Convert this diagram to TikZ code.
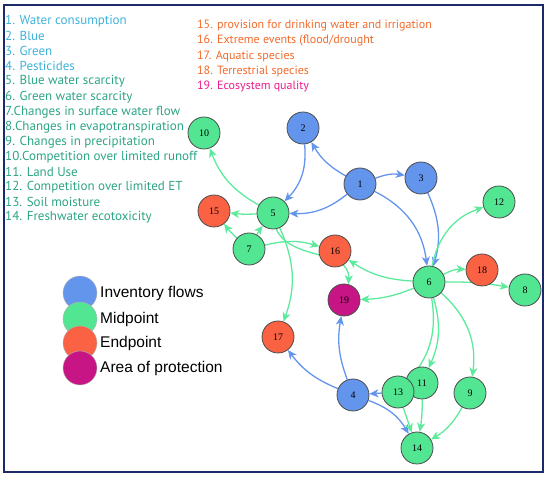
\documentclass[tikz,border=0pt]{standalone}
\usepackage{fontspec}
\usepackage{xcolor}
\usepackage{tikz}
\usetikzlibrary{arrows.meta,backgrounds}

\newfontfamily\listfont{PT Sans}
\newfontfamily\legendfont{Liberation Sans}
\newfontfamily\numfont{Liberation Serif}

\definecolor{flowblue}{HTML}{6495ED}
\definecolor{midgreen}{HTML}{52E693}
\definecolor{endred}{HTML}{FB6244}
\definecolor{aopmagenta}{HTML}{C71585}
\definecolor{linkgreen}{HTML}{5CEB9C}
\definecolor{txtblue}{HTML}{3EB2DA}
\definecolor{txtgreen}{HTML}{2CA585}
\definecolor{txtorange}{HTML}{F26A2A}
\definecolor{txtpink}{HTML}{EC1C8C}
\definecolor{framenavy}{HTML}{1C2A6B}

\tikzset{
  impact/.style={circle, draw=black!70, line width=0.8pt, minimum size=32pt,
                 inner sep=0pt, font=\numfont\fontsize{10}{10}\selectfont},
  flownode/.style={impact, fill=flowblue},
  midnode/.style={impact, fill=midgreen},
  endnode/.style={impact, fill=endred},
  aopnode/.style={impact, fill=aopmagenta},
  link/.style={line width=1.3pt, -{Stealth[length=9pt,width=8pt,inset=2.5pt]}, bend left=20},
  bluelink/.style={link, draw=flowblue},
  greenlink/.style={link, draw=linkgreen},
  listitem/.style={anchor=west, inner sep=0pt, font=\listfont\fontsize{13}{13}\selectfont},
  sidelist/.style={listitem, font=\listfont\fontsize{12}{12}\selectfont},
  legenddot/.style={circle, draw=black!30, line width=0.4pt, minimum size=34pt, inner sep=0pt},
  legendtext/.style={anchor=west, inner sep=0pt, font=\legendfont\fontsize{15.5}{15.5}\selectfont},
}

\begin{document}
\begin{tikzpicture}[x=1pt,y=1pt]
  \useasboundingbox (0,0) rectangle (550,477);

  % -- Frame --
  \draw[framenavy, line width=1.6pt] (4,5) rectangle (543,472);

  % -- Left list of indicators --
  \node[listitem, txtblue] (l1) at (5,456) {1. Water consumption};
  \node[listitem, txtblue] (l2) at (5,441) {2. Blue};
  \node[listitem, txtblue] (l3) at (5,426) {3. Green};
  \node[listitem, txtblue] (l4) at (5,411) {4. Pesticides};
  \node[listitem, txtgreen] (l5) at (5,396) {5. Blue water scarcity};
  \node[listitem, txtgreen] (l6) at (5,380) {6. Green water scarcity};
  \node[listitem, txtgreen] (l7) at (5,365) {7.Changes in surface water flow};
  \node[listitem, txtgreen] (l8) at (5,350) {8.Changes in evapotranspiration};
  \node[listitem, txtgreen] (l9) at (5,335) {9. Changes in precipitation};
  \node[listitem, txtgreen] (l10) at (5,320) {10.Competition over limited runoff};
  \node[listitem, txtgreen] (l11) at (5,305) {11. Land Use};
  \node[listitem, txtgreen] (l12) at (5,290) {12. Competition over limited ET};
  \node[listitem, txtgreen] (l13) at (5,275) {13. Soil moisture};
  \node[listitem, txtgreen] (l14) at (5,260) {14. Freshwater ecotoxicity};

  % -- Right list of indicators --
  \node[sidelist, txtorange] (l15) at (197,451) {15. provision for drinking water and irrigation};
  \node[sidelist, txtorange] (l16) at (197,436) {16. Extreme events (flood/drought};
  \node[sidelist, txtorange] (l17) at (197,421) {17. Aquatic species};
  \node[sidelist, txtorange] (l18) at (197,406) {18. Terrestrial species};
  \node[sidelist, txtpink] (l19) at (197,391) {19. Ecosystem quality};

  % -- Legend --
  \node[legenddot, fill=flowblue] (kflow) at (80,184) {};
  \node[legenddot, fill=midgreen] (kmid) at (80,158) {};
  \node[legenddot, fill=endred] (kend) at (80,134) {};
  \node[legenddot, fill=aopmagenta] (kaop) at (80,109) {};
  \node[legendtext] (tflow) at (100,184) {Inventory flows};
  \node[legendtext] (tmid) at (100,158) {Midpoint};
  \node[legendtext] (tend) at (100,134) {Endpoint};
  \node[legendtext] (taop) at (100,109) {Area of protection};

  % -- Inventory flows --
  \node[flownode] (n1) at (360,293) {1};
  \node[flownode] (n2) at (303,349) {2};
  \node[flownode] (n3) at (421,299) {3};
  \node[flownode] (n4) at (353,82) {4};

  % -- Midpoints --
  \node[midnode] (n5) at (273,264) {5};
  \node[midnode] (n6) at (429,195) {6};
  \node[midnode] (n7) at (249,228) {7};
  \node[midnode] (n8) at (525,187) {8};
  \node[midnode] (n9) at (470,84) {9};
  \node[midnode] (n10) at (204,344) {10};
  \node[midnode] (n11) at (422,94) {11};
  \node[midnode] (n13) at (398,85) {13};
  \node[midnode] (n12) at (499,275) {12};
  \node[midnode] (n14) at (417,29) {14};

  % -- Endpoints and area of protection --
  \node[endnode] (n15) at (214,266) {15};
  \node[endnode] (n16) at (335,226) {16};
  \node[endnode] (n17) at (278,140) {17};
  \node[endnode] (n18) at (482,207) {18};
  \node[aopnode] (n19) at (344,177) {19};

  % -- Links, kept under the nodes --
  \begin{scope}[on background layer]
    \draw[bluelink, bend left=15] (n1) to (n2);
    \draw[bluelink, bend left=15] (n1) to (n3);
    \draw[bluelink] (n1) to (n5);
    \draw[bluelink, bend left=28] (n1) to (n6);
    \draw[bluelink, bend left=25] (n2) to (n5);
    \draw[bluelink, bend left=20] (n3) to (n6);
    \draw[bluelink, bend left=15] (n4) to (n17);
    \draw[bluelink, bend left=15] (n4) to (n19);
    \draw[bluelink] (n4) to (n14);
    \draw[bluelink, bend left=0] (n13) to (n4);

    \draw[greenlink] (n5) to (n10);
    \draw[greenlink, bend left=5] (n5) to (n15);
    \draw[greenlink, out=-28, in=125] (n5) to (n19);
    \draw[greenlink, bend left=22] (n5) to (n17);
    \draw[greenlink, bend left=5] (n7) to (n5);
    \draw[greenlink, bend left=5] (n7) to (n15);
    \draw[greenlink, bend left=15] (n7) to (n16);
    \draw[greenlink, bend left=15] (n6) to (n16);
    \draw[greenlink, bend left=10] (n6) to (n19);
    \draw[greenlink, bend left=30] (n6) to (n12);
    \draw[greenlink, bend left=15] (n6) to (n18);
    \draw[greenlink, bend left=5] (n6) to (n8);
    \draw[greenlink, bend left=25] (n6) to (n13);
    \draw[greenlink, bend left=20] (n6) to (n11);
    \draw[greenlink, bend left=28] (n6) to (n9);
    \draw[greenlink, bend left=0] (n13) to (n14);
    \draw[greenlink, bend left=5] (n11) to (n14);
    \draw[greenlink, bend left=15] (n9) to (n14);
  \end{scope}

\end{tikzpicture}
\end{document}
